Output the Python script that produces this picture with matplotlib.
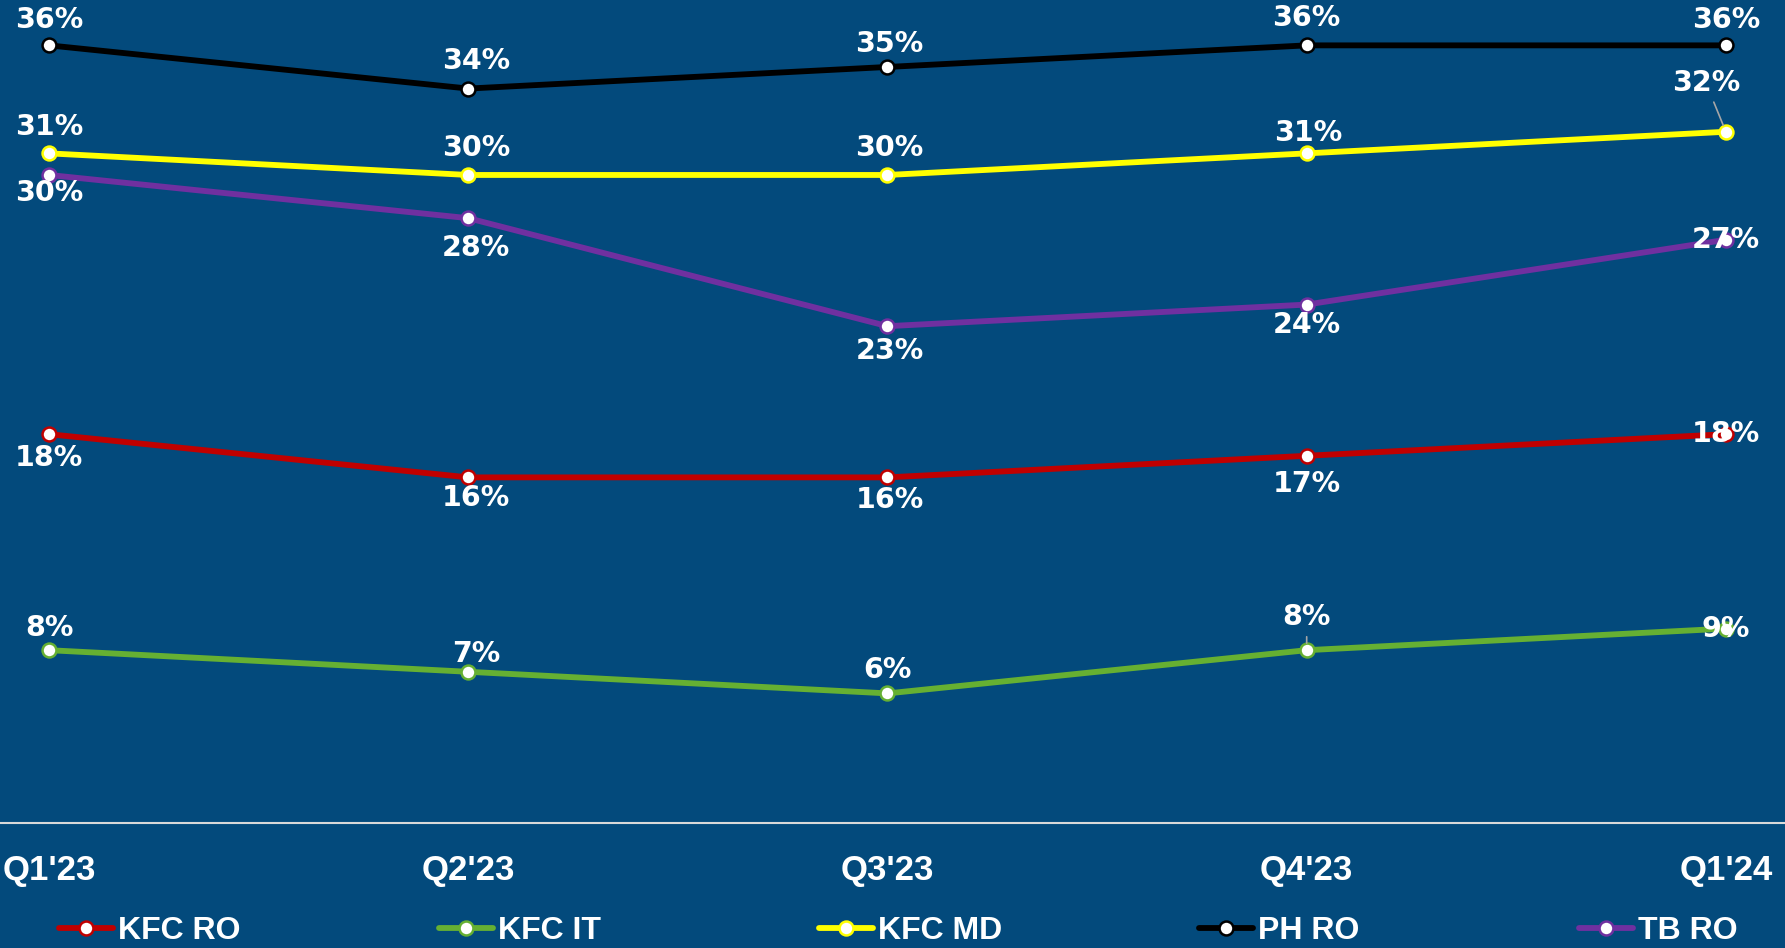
import matplotlib
matplotlib.use("Agg")
import matplotlib.pyplot as plt

# data (percent)
quarters = ["Q1'23", "Q2'23", "Q3'23", "Q4'23", "Q1'24"]
kfc_ro = [18, 16, 16, 17, 18]
kfc_it = [8, 7, 6, 8, 9]
kfc_md = [31, 30, 30, 31, 32]
ph_ro = [36, 34, 35, 36, 36]
tb_ro = [30, 28, 23, 24, 27]

series = [
    ("KFC RO", kfc_ro, "#C00000"),
    ("KFC IT", kfc_it, "#66B032"),
    ("KFC MD", kfc_md, "#FFFF00"),
    ("PH RO", ph_ro, "#000000"),
    ("TB RO", tb_ro, "#7030A0"),
]

# label offsets in pixels (dx, dy) for each point
label_offsets = {
    "KFC RO": [(0, -24), (8, -21), (2, -23), (0, -28), (0, 0)],
    "KFC IT": [(0, 22), (8, 18), (0, 23), (0, 33), (0, 0)],
    "KFC MD": [(0, 26), (8, 27), (2, 27), (2, 20), (-20, 49)],
    "PH RO": [(0, 25), (8, 28), (2, 23), (0, 27), (0, 25)],
    "TB RO": [(0, -18), (8, -30), (2, -25), (0, -20), (0, 0)],
}
leaders = {("KFC MD", 4), ("KFC IT", 3)}

bg = "#034A7C"
W, H = 1785, 948
fig = plt.figure(figsize=(W / 100, H / 100), dpi=100, facecolor=bg)
ax = fig.add_axes([0, 1 - 823 / H, 1, 823 / H])
ax.set_facecolor(bg)

x = list(range(len(quarters)))
lines = []
for name, vals, color in series:
    ln, = ax.plot(x, vals, color=color, lw=4.2, marker="o", markersize=10,
                  markerfacecolor="white", markeredgecolor=color,
                  markeredgewidth=1.8, label=name, solid_capstyle="round")
    lines.append(ln)
    for i, v in enumerate(vals):
        dx, dy = label_offsets[name][i]
        kw = {}
        if (name, i) in leaders:
            kw["arrowprops"] = dict(arrowstyle="-", color="#A6A6A6", lw=1.2,
                                    shrinkA=2, shrinkB=5)
        ax.annotate(f"{v}%", (i, v), xytext=(dx, dy), textcoords="offset pixels",
                    ha="center", va="center", color="white", fontsize=20.5,
                    fontweight="bold", family="DejaVu Sans", **kw)

ax.set_xlim(-0.117, 4.141)
ax.set_ylim(0, 38.1)
ax.set_yticks([])
ax.set_xticks(x)
ax.set_xticklabels(quarters, fontsize=25, fontweight="bold", color="white",
                   family="Liberation Sans")
ax.tick_params(axis="x", length=0, pad=22)
for s in ["top", "left", "right"]:
    ax.spines[s].set_visible(False)
ax.spines["bottom"].set_color("#D9D9D9")
ax.spines["bottom"].set_linewidth(1.5)

# legend entries, one per series
for k, ln in enumerate(lines):
    x0 = (59 + k * 380) / W
    fig.legend(handles=[ln], loc="center left", bbox_to_anchor=(x0, 1 - 931 / H),
               frameon=False, handlelength=1.7, handletextpad=0.15,
               borderpad=0, borderaxespad=0,
               prop={"family": "Liberation Sans", "weight": "bold", "size": 23},
               labelcolor="white")

fig.savefig("out.png", dpi=100, facecolor=bg)
